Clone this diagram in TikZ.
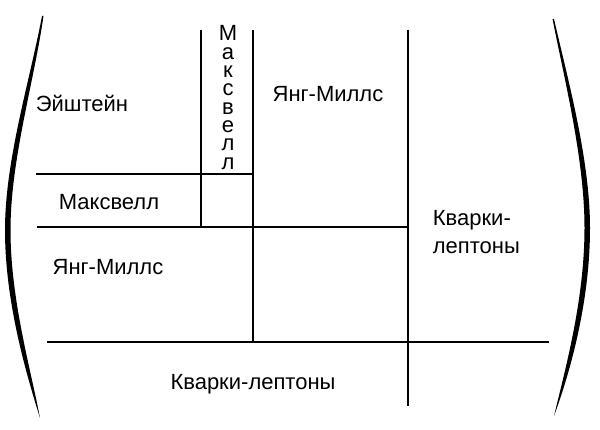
\documentclass[tikz,border=0pt]{standalone}
\usepackage{fontspec}
\setmainfont{Liberation Sans}
\begin{document}
\begin{tikzpicture}[x=1pt, y=-1pt, line width=1.7pt,
  lbl/.style = {font=\fontsize{22}{28}\selectfont, inner sep=0pt},
  paren/.style = {fill=black, draw=none}]
\useasboundingbox (0,0) rectangle (600,430);
% big brackets
\fill[paren] (42,16) .. controls (30,80) and (5,160) .. (5,230)
  .. controls (5,300) and (25,370) .. (40,418)
  .. controls (31,370) and (10.5,300) .. (10.5,230)
  .. controls (10.5,160) and (34,82) .. (43.5,16) -- cycle;
\fill[paren] (554,19) .. controls (568,80) and (590,160) .. (590,228)
  .. controls (590,300) and (571,370) .. (554,416)
  .. controls (565,370) and (584.5,300) .. (584.5,228)
  .. controls (584.5,160) and (565,82) .. (552.5,19) -- cycle;
% grid
\draw (201,30) -- (201,227);
\draw (253,30) -- (253,342);
\draw (408,30) -- (408,406);
\draw (36,174) -- (253,174);
\draw (37,227) -- (408,227);
\draw (47,342) -- (549,342);
% labels
\node[lbl, anchor=base] (ein) at (82,112) {Эйштейн};
\node[lbl, anchor=north, align=center, font=\fontsize{22}{18.3}\selectfont] (maxv) at (228,25)
  {М\\а\\к\\с\\в\\е\\л\\л};
\node[lbl, anchor=base] (ymtop) at (328,102) {Янг-Миллс};
\node[lbl, anchor=base] (maxh) at (109,210) {Максвелл};
\node[lbl, anchor=base] (ymleft) at (108,275) {Янг-Миллс};
\node[lbl, anchor=north west, align=left] (kl) at (432,209.5) {Кварки-\\лептоны};
\node[lbl, anchor=base] (klbot) at (253,390) {Кварки-лептоны};
\end{tikzpicture}
\end{document}
